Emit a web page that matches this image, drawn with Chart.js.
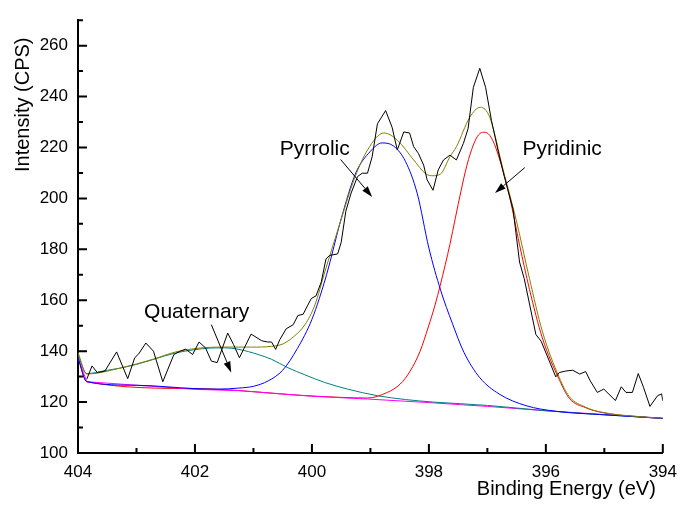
<!DOCTYPE html>
<html>
<head>
<meta charset="utf-8">
<title>N 1s XPS</title>
<script src="https://cdn.jsdelivr.net/npm/chart.js@4.4.1/dist/chart.umd.min.js"></script>
<style>
  html, body { margin: 0; padding: 0; background: #fff; }
  canvas { display: block; }
</style>
</head>
<body>
<canvas id="xpsChart" width="686" height="506"></canvas>
<script>
// measured N 1s spectrum
const measuredEnergy = [403.85, 403.76, 403.67, 403.54, 403.34, 403.15, 403.03, 402.96, 402.84, 402.71,
  402.55, 402.36, 402.25, 402.16, 402.04, 401.93, 401.82, 401.72, 401.62, 401.44,
  401.34, 401.24, 401.04, 400.86, 400.76, 400.69, 400.62, 400.55, 400.44, 400.32,
  400.24, 400.15, 400.07, 400.01, 399.93, 399.84, 399.76, 399.70, 399.56, 399.50,
  399.42, 399.33, 399.22, 399.14, 399.05, 398.97, 398.88, 398.74, 398.63, 398.54,
  398.43, 398.33, 398.26, 398.18, 398.09, 398.03, 397.93, 397.84, 397.75, 397.64,
  397.53, 397.41, 397.33, 397.24, 397.13, 397.03, 396.93, 396.82, 396.71, 396.56,
  396.45, 396.37, 396.17, 396.08, 395.83, 395.77, 395.66, 395.54, 395.42, 395.32,
  395.24, 395.12, 395.01, 394.81, 394.71, 394.63, 394.52, 394.42, 394.33, 394.22,
  394.09, 394.02, 394.00];
const measuredCounts = [129.0, 134.2, 131.6, 132.2, 139.7, 129.2, 137.4, 139.0, 143.2, 140.0,
  128.0, 138.7, 140.0, 140.8, 138.7, 143.6, 141.3, 136.1, 135.5, 147.1,
  142.6, 137.4, 146.7, 144.1, 143.6, 143.6, 140.7, 144.5, 148.8, 150.4,
  154.0, 154.5, 158.1, 160.7, 161.7, 167.2, 176.2, 177.6, 178.2, 182.7,
  195.0, 202.1, 208.6, 209.9, 209.9, 216.4, 229.3, 234.5, 228.0, 219.0,
  226.1, 225.7, 220.3, 217.7, 213.1, 207.3, 203.2, 211.2, 215.1, 217.0,
  215.1, 221.6, 227.4, 243.6, 251.1, 243.6, 230.6, 219.0, 208.6, 195.6,
  175.0, 168.5, 146.5, 143.9, 129.9, 131.6, 132.2, 132.5, 131.0, 132.0,
  128.3, 123.8, 125.1, 120.6, 126.0, 123.8, 123.8, 131.2, 125.8, 118.3,
  122.5, 123.2, 120.5];

// fitted envelope
const envelopeEnergy = [404.0, 403.85, 403.29, 402.72, 402.33, 401.88, 401.54, 401.03, 400.69, 400.5,
  400.35, 400.12, 399.95, 399.78, 399.5, 399.28, 399.05, 398.77, 398.54, 398.26,
  398.05, 397.93, 397.8, 397.64, 397.53, 397.3, 397.12, 396.96, 396.73, 396.51,
  396.28, 396.06, 395.77, 395.6, 395.32, 395.04, 394.47, 394.0];
const envelopeCounts = [139.5, 131.0, 133.3, 136.8, 139.7, 141.3, 141.6, 141.6, 141.9, 142.8,
  145.0, 150.4, 158.1, 171.1, 191.8, 207.4, 219.0, 225.7, 222.9, 215.1,
  209.6, 208.9, 209.6, 216.4, 220.3, 231.9, 235.8, 231.9, 211.2, 191.8,
  168.5, 147.8, 129.6, 122.2, 118.0, 116.0, 114.4, 113.7];

// pyridinic component
const pyridinicEnergy = [404.0, 403.85, 402.0, 400.0, 399.05, 398.71, 398.49, 398.32, 398.15, 398.01,
  397.89, 397.81, 397.72, 397.64, 397.55, 397.45, 397.35, 397.24, 397.15, 397.06,
  396.96, 396.85, 396.62, 396.45, 396.28, 396.06, 395.77, 395.6, 395.32, 395.04,
  394.47, 394.0];
const pyridinicCounts = [137.4, 128.0, 125.3, 122.4, 121.6, 123.8, 127.1, 132.2, 140.0, 149.5,
  158.5, 165.5, 174.0, 182.0, 192.0, 203.0, 213.0, 221.0, 225.0, 226.0,
  224.8, 219.5, 200.6, 181.8, 164.3, 145.2, 128.8, 121.5, 117.8, 115.9,
  114.3, 113.6];

// pyrrolic component
const pyrrolicEnergy = [404.0, 403.85, 403.0, 402.0, 401.6, 401.25, 401.0, 400.75, 400.5, 400.25,
  400.0, 399.75, 399.5, 399.25, 399.0, 398.8, 398.6, 398.4, 398.2, 398.0,
  397.8, 397.6, 397.4, 397.13, 396.8, 396.34, 395.83, 395.0, 394.0];
const pyrrolicCounts = [137.4, 128.0, 126.6, 125.3, 125.1, 125.5, 126.2, 128.3, 132.5, 141.0,
  152.5, 170.0, 192.0, 210.0, 218.5, 221.8, 220.5, 214.5, 202.0, 180.5,
  164.0, 151.0, 139.5, 129.6, 123.2, 118.6, 116.4, 115.0, 113.6];

// quaternary component
const quaternaryEnergy = [404.0, 403.85, 403.5, 403.29, 403.0, 402.72, 402.33, 402.0, 401.75, 401.5,
  401.25, 400.92, 400.69, 400.41, 400.12, 399.78, 399.39, 398.88, 398.4, 397.92,
  397.0, 396.0, 395.0, 394.0];
const quaternaryCounts = [138.5, 131.2, 132.5, 133.3, 134.8, 136.7, 139.3, 140.6, 141.2, 141.3,
  140.7, 138.7, 136.8, 133.5, 130.7, 127.7, 125.1, 122.5, 121.0, 120.0,
  118.7, 116.6, 115.0, 113.6];

// background
const baselineEnergy = [404.0, 403.85, 402.0, 401.25, 400.0, 399.05, 398.0, 397.0, 396.0, 395.0, 394.47, 394.0];
const baselineCounts = [137.4, 128.0, 125.0, 124.5, 122.3, 121.2, 119.8, 118.3, 116.6, 115.1, 114.4, 113.6];

const xMajor = [404, 402, 400, 398, 396, 394];
const xMinor = [403, 401, 399, 397, 395];
const yMajor = [100, 120, 140, 160, 180, 200, 220, 240, 260];
const yMinor = [110, 130, 150, 170, 190, 210, 230, 250, 270];

const peakLabels = [
  { text: 'Pyrrolic', at: [400.55, 217.0], from: [399.51, 215.3], to: [398.97, 200.6] },
  { text: 'Pyridinic', at: [396.40, 217.0], from: [396.36, 212.1], to: [396.87, 202.1] },
  { text: 'Quaternary', at: [402.87, 152.9], from: [401.72, 150.4], to: [401.38, 131.6] },
];

const FONT = '"Liberation Sans", Arial, Helvetica, sans-serif';

function pts(xs, ys) {
  return xs.map((x, i) => ({ x: x, y: ys[i] }));
}

function curve(data, color, smooth) {
  return {
    data: data,
    borderColor: color,
    borderWidth: 1,
    pointRadius: 0,
    fill: false,
    tension: 0,
    cubicInterpolationMode: smooth ? 'monotone' : 'default',
  };
}

function arrow(ctx, x1, y1, x2, y2) {
  const ang = Math.atan2(y2 - y1, x2 - x1);
  const len = 11, half = 3.5;
  const bx = x2 - len * Math.cos(ang), by = y2 - len * Math.sin(ang);
  ctx.beginPath();
  ctx.moveTo(x1, y1);
  ctx.lineTo(bx, by);
  ctx.lineWidth = 1;
  ctx.stroke();
  ctx.beginPath();
  ctx.moveTo(x2, y2);
  ctx.lineTo(bx + half * Math.sin(ang), by - half * Math.cos(ang));
  ctx.lineTo(bx - half * Math.sin(ang), by + half * Math.cos(ang));
  ctx.closePath();
  ctx.fill();
}

// inward major/minor ticks, axis titles and peak labels
const decor = {
  id: 'decor',
  afterDraw(chart) {
    const { ctx, chartArea: area, scales: { x, y } } = chart;
    ctx.save();
    ctx.strokeStyle = '#000';
    ctx.fillStyle = '#000';
    ctx.lineWidth = 2;
    ctx.beginPath();
    xMajor.forEach(v => { const p = x.getPixelForValue(v); ctx.moveTo(p, area.bottom); ctx.lineTo(p, area.bottom - 9); });
    xMinor.forEach(v => { const p = x.getPixelForValue(v); ctx.moveTo(p, area.bottom); ctx.lineTo(p, area.bottom - 5); });
    yMajor.forEach(v => { const p = y.getPixelForValue(v); ctx.moveTo(area.left, p); ctx.lineTo(area.left + 9, p); });
    yMinor.forEach(v => { const p = y.getPixelForValue(v); ctx.moveTo(area.left, p); ctx.lineTo(area.left + 5, p); });
    ctx.stroke();

    ctx.font = '20px ' + FONT;
    ctx.textBaseline = 'alphabetic';
    ctx.textAlign = 'right';
    ctx.fillText('Binding Energy (eV)', area.right - 7, 495);

    ctx.save();
    ctx.translate(29, 172);
    ctx.rotate(-Math.PI / 2);
    ctx.textAlign = 'left';
    ctx.fillText('Intensity (CPS)', 0, 0);
    ctx.restore();

    ctx.font = '21px ' + FONT;
    ctx.textAlign = 'left';
    peakLabels.forEach(l => {
      ctx.fillText(l.text, x.getPixelForValue(l.at[0]), y.getPixelForValue(l.at[1]));
      arrow(ctx, x.getPixelForValue(l.from[0]), y.getPixelForValue(l.from[1]),
        x.getPixelForValue(l.to[0]), y.getPixelForValue(l.to[1]));
    });
    ctx.restore();
  },
};

// first dataset is painted last, so the measured trace sits on top
new Chart(document.getElementById('xpsChart').getContext('2d'), {
  type: 'line',
  data: {
    datasets: [
      curve(pts(measuredEnergy, measuredCounts), '#000000', false),
      curve(pts(envelopeEnergy, envelopeCounts), '#808000', true),
      curve(pts(pyrrolicEnergy, pyrrolicCounts), '#0000ff', true),
      curve(pts(quaternaryEnergy, quaternaryCounts), '#008080', true),
      curve(pts(baselineEnergy, baselineCounts), '#ff00ff', false),
      curve(pts(pyridinicEnergy, pyridinicCounts), '#ff0000', true),
    ],
  },
  options: {
    responsive: false,
    animation: false,
    layout: { padding: { top: 15, right: 17, left: 0, bottom: 0 } },
    plugins: { legend: { display: false }, title: { display: false }, tooltip: { enabled: false } },
    scales: {
      x: {
        type: 'linear',
        reverse: true,
        min: 394,
        max: 404,
        grid: { display: false, drawTicks: false },
        border: { display: true, color: '#000', width: 2 },
        ticks: { stepSize: 2, padding: 9, color: '#000', font: { family: FONT, size: 17 }, maxRotation: 0 },
        afterFit(scale) { scale.height = 53; },
      },
      y: {
        type: 'linear',
        min: 100,
        max: 270,
        grid: { display: false, drawTicks: false },
        border: { display: true, color: '#000', width: 2 },
        ticks: {
          stepSize: 20,
          padding: 10,
          color: '#000',
          font: { family: FONT, size: 17 },
          callback: v => (v % 20 === 0 ? v : ''),
        },
        afterFit(scale) { scale.width = 78; },
      },
    },
  },
  plugins: [decor],
});
</script>
</body>
</html>
